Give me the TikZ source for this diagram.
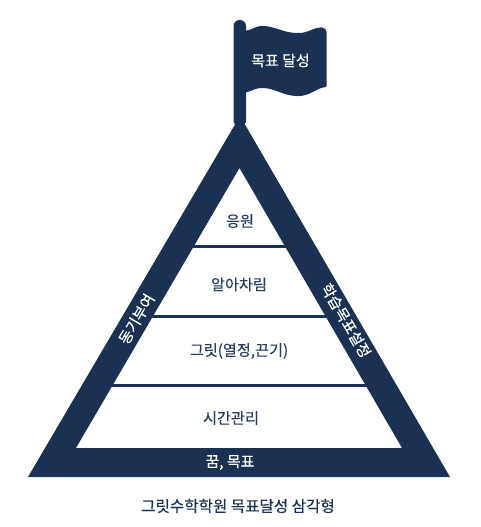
\documentclass[tikz,border=0pt]{standalone}
\usepackage{fontspec}
\setmainfont{Noto Sans CJK KR}
\newfontfamily\heavyfont[FakeBold=0.35]{Noto Sans CJK KR}
\newfontfamily\midfont[FakeBold=0.15]{Noto Sans CJK KR}
\definecolor{navy}{HTML}{1A3153}
\definecolor{inktext}{HTML}{2A3D5C}
\tikzset{
  lay/.style={text=inktext,font=\midfont\fontsize{15.2}{18}\selectfont,inner sep=0pt},
  wlab/.style={text=white,font=\heavyfont\fontsize{15}{18}\selectfont,inner sep=0pt},
  band/.style={draw=navy,line width=3pt}
}
\begin{document}
\begin{tikzpicture}[x=1pt,y=-1pt]
\useasboundingbox (0,0) rectangle (480,527);
\fill[white] (0,0) rectangle (480,527);
% triangle
\fill[navy,even odd rule] (28,477) -- (240,116) -- (450,477) -- cycle
  (76,448) -- (239.5,168) -- (402,448) -- cycle;
% bands
\draw[band] (193,246.5) -- (286,246.5);
\draw[band] (152,316) -- (327,316);
\draw[band] (112,385.5) -- (367,385.5);
% flag
\fill[navy,rounded corners=1pt] (244,31) .. controls (252,30) and (256,26) .. (262,26)
  .. controls (274,26) and (284,33) .. (298,33)
  .. controls (308,33) and (314,27.5) .. (321,27.5)
  .. controls (325,27.5) and (326.5,30) .. (326.5,33)
  -- (326.5,87)
  .. controls (316,88) and (310,96) .. (298,96)
  .. controls (284,96) and (274,88) .. (262,88)
  .. controls (256,88) and (252,91) .. (244,93) -- cycle;
\fill[navy,rounded corners=6pt] (233.5,20) rectangle (246,126.5);
% labels
\node[wlab] (goal) at (280.5,60.5) {목표 달성};
\node[lay] (l1) at (240,221) {응원};
\node[lay] (l2) at (239,284.5) {알아차림};
\node[lay] (l3) at (239,351) {그릿(열정,끈기)};
\node[lay] (l4) at (231,418) {시간관리};
\node[wlab] (base) at (230,462.5) {꿈, 목표};
\node[wlab,rotate=59.8] (left) at (136.5,319) {동기부여};
\node[wlab,rotate=-59.8] (right) at (346,320.5) {학습목표설정};
\node[lay,text=navy,font=\midfont\fontsize{15.6}{18}\selectfont] (cap) at (238,506) {그릿수학학원 목표달성 삼각형};
\end{tikzpicture}
\end{document}
